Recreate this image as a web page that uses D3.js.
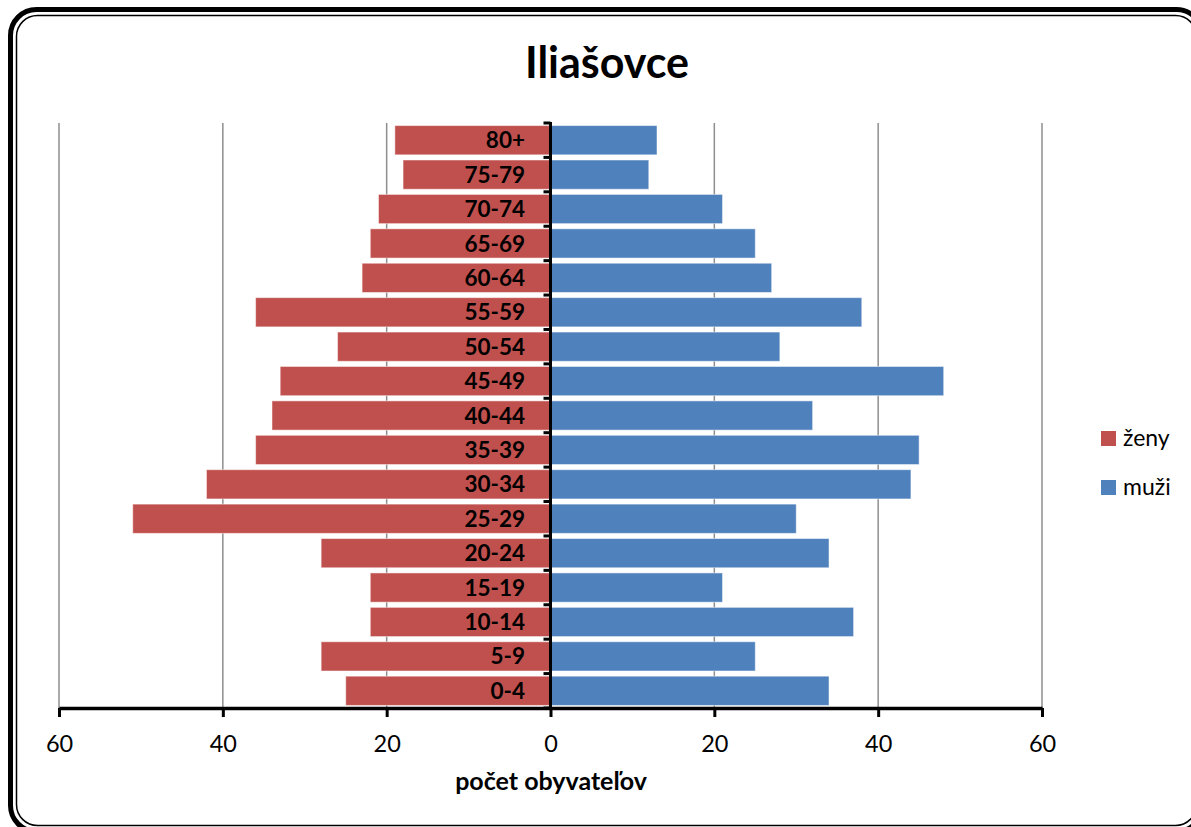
<!DOCTYPE html>
<html>
<head>
<meta charset="utf-8">
<script src="https://cdn.jsdelivr.net/npm/d3@7"></script>
<style>
  html, body { margin: 0; padding: 0; background: #fff; overflow: hidden; }
  svg { display: block; }
</style>
</head>
<body>
<svg id="chart" width="1191" height="827"></svg>
<script>
// ---- data ----
const categories = ["80+","75-79","70-74","65-69","60-64","55-59","50-54","45-49","40-44","35-39","30-34","25-29","20-24","15-19","10-14","5-9","0-4"];
const zeny = [19,18,21,22,23,36,26,33,34,36,42,51,28,22,22,28,25];
const muzi = [13,12,21,25,27,38,28,48,32,45,44,30,34,21,37,25,34];
const tickValues = [-60,-40,-20,0,20,40,60];
const seriesNames = ["ženy","muži"];
const title = "Iliašovce";
const axisTitle = "počet obyvateľov";

// ---- layout ----
const svg = d3.select("#chart");
const FONT = "Lato, 'Open Sans', sans-serif";
const colors = { "ženy": "#C0504D", "muži": "#4F81BD" };

const x = d3.scaleLinear().domain([-60, 60]).range([59, 1042]);
const y = d3.scaleBand().domain(categories).range([123, 708]).paddingInner(0.15).paddingOuter(0.075);

// frame (double rounded border, partly outside the viewport)
svg.append("rect").attr("x", 10.5).attr("y", 9.5).attr("width", 1192).attr("height", 822)
  .attr("rx", 26).attr("fill", "none").attr("stroke", "#000").attr("stroke-width", 5);
svg.append("rect").attr("x", 16.5).attr("y", 15.5).attr("width", 1180).attr("height", 810)
  .attr("rx", 21).attr("fill", "none").attr("stroke", "#000").attr("stroke-width", 1.5);

// title
svg.append("text").attr("x", 607).attr("y", 78).attr("text-anchor", "middle")
  .attr("font-family", FONT).attr("font-weight", "bold").attr("font-size", 43)
  .attr("fill", "#000").text(title);

// gridlines
svg.append("g").selectAll("line").data(tickValues.filter(d => d !== 0)).join("line")
  .attr("x1", d => x(d)).attr("x2", d => x(d)).attr("y1", 123).attr("y2", 708)
  .attr("stroke", "#8e8e8e").attr("stroke-width", 1.5);

// bars
const rows = categories.map((c, i) => ({ c, z: zeny[i], m: muzi[i] }));
svg.append("g").selectAll("rect").data(rows).join("rect")
  .attr("x", d => x(-d.z)).attr("width", d => x(0) - x(-d.z))
  .attr("y", d => y(d.c)).attr("height", y.bandwidth())
  .attr("fill", colors["ženy"]).attr("stroke", "#fff").attr("stroke-opacity", 0.5).attr("stroke-width", 1);
svg.append("g").selectAll("rect").data(rows).join("rect")
  .attr("x", x(0)).attr("width", d => x(d.m) - x(0))
  .attr("y", d => y(d.c)).attr("height", y.bandwidth())
  .attr("fill", colors["muži"]).attr("stroke", "#fff").attr("stroke-opacity", 0.5).attr("stroke-width", 1);

// category labels
svg.append("g").selectAll("text").data(categories).join("text")
  .attr("x", 525).attr("y", d => y(d) + y.bandwidth() / 2).attr("dy", "0.36em")
  .attr("text-anchor", "end").attr("font-family", FONT).attr("font-weight", "bold")
  .attr("font-size", 22.5).attr("fill", "#000").text(d => d);

// vertical axis with boundary ticks
const step = y.step();
const boundaries = d3.range(categories.length + 1).map(i => 123 + i * step);
svg.append("g").selectAll("line").data(boundaries).join("line")
  .attr("x1", x(0) - 7).attr("x2", x(0)).attr("y1", d => d).attr("y2", d => d)
  .attr("stroke", "#000").attr("stroke-width", 3);
svg.append("line").attr("x1", x(0)).attr("x2", x(0)).attr("y1", 122).attr("y2", 708)
  .attr("stroke", "#000").attr("stroke-width", 3);

// horizontal axis
const xAxis = d3.axisBottom(x).tickValues(tickValues).tickFormat(d => Math.abs(d))
  .tickSize(9).tickPadding(18).tickSizeOuter(0);
const gx = svg.append("g").attr("transform", "translate(0,708)").call(xAxis);
gx.select(".domain").attr("stroke", "#000").attr("stroke-width", 3.5);
gx.selectAll(".tick line").attr("stroke", "#000").attr("stroke-width", 3);
gx.selectAll(".tick text").attr("font-family", FONT).attr("font-size", 23.5).attr("fill", "#000");

// axis title
svg.append("text").attr("x", 551).attr("y", 790).attr("text-anchor", "middle")
  .attr("font-family", FONT).attr("font-weight", "bold").attr("font-size", 25)
  .attr("fill", "#000").text(axisTitle);

// legend
const lg = svg.append("g").selectAll("g").data(seriesNames).join("g")
  .attr("transform", (d, i) => `translate(1101,${431 + i * 49})`);
lg.append("rect").attr("width", 15).attr("height", 15).attr("fill", d => colors[d]);
lg.append("text").attr("x", 22).attr("y", 15).attr("font-family", FONT)
  .attr("font-size", 23).attr("fill", "#000").text(d => d);
</script>
</body>
</html>
